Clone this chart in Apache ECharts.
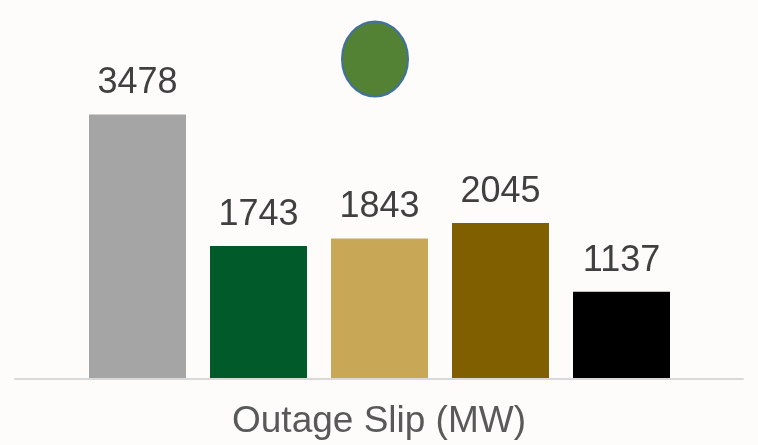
<!DOCTYPE html>
<html>
<head>
<meta charset="utf-8">
<script src="https://cdn.jsdelivr.net/npm/echarts@6/dist/echarts.min.js"></script>
<style>
  html, body { margin: 0; padding: 0; background: #fdfcfa; }
  #main { width: 758px; height: 445px; }
</style>
</head>
<body>
<div id="main"></div>
<script>
// categories have no visible labels in the picture
var categories = ['A', 'B', 'C', 'D', 'E'];
var values = [3478, 1743, 1843, 2045, 1137];
var barColors = ['#a5a5a5', '#015a29', '#c8a856', '#7f5f00', '#000000'];
var axisTitle = 'Outage Slip (MW)';

var chart = echarts.init(document.getElementById('main'), null, { renderer: 'canvas' });

var option = {
  backgroundColor: '#fdfcfa',
  animation: false,
  title: {
    text: axisTitle,
    left: 'center',
    top: 398,
    textStyle: {
      fontFamily: 'Liberation Sans, Arial, sans-serif',
      fontSize: 37,
      fontWeight: 'normal',
      color: '#595959'
    }
  },
  grid: [
    { left: 77, width: 605, top: 75, bottom: 67 },
    // wider grid only for the baseline
    { left: 15, right: 15, top: 75, bottom: 66 }
  ],
  xAxis: [
    {
      type: 'category',
      gridIndex: 0,
      data: categories,
      axisLine: { show: false },
      axisTick: { show: false },
      axisLabel: { show: false }
    },
    {
      type: 'value',
      gridIndex: 1,
      min: 0,
      max: 1,
      axisLine: { show: true, lineStyle: { color: '#d9d9d9', width: 2 } },
      axisTick: { show: false },
      axisLabel: { show: false },
      splitLine: { show: false }
    }
  ],
  yAxis: [
    { type: 'value', gridIndex: 0, min: 0, max: 4000, show: false, splitLine: { show: false } },
    { type: 'value', gridIndex: 1, show: false, splitLine: { show: false } }
  ],
  series: [{
    type: 'bar',
    xAxisIndex: 0,
    yAxisIndex: 0,
    barWidth: 97,
    data: values.map(function (v, i) {
      return { value: v, itemStyle: { color: barColors[i] } };
    }),
    label: {
      show: true,
      position: 'top',
      distance: 13,
      fontFamily: 'Liberation Sans, Arial, sans-serif',
      fontSize: 36,
      color: '#404040'
    }
  }],
  graphic: [{
    type: 'circle',
    x: 375,
    y: 59,
    scaleY: 1.13,
    shape: { cx: 0, cy: 0, r: 33 },
    style: { fill: '#548235', stroke: '#41719c', lineWidth: 2 }
  }]
};

chart.setOption(option);
</script>
</body>
</html>
